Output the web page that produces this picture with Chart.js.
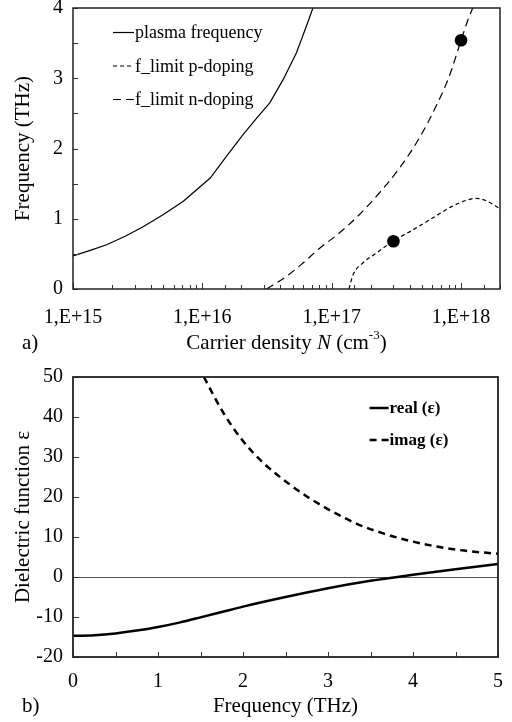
<!DOCTYPE html>
<html>
<head>
<meta charset="utf-8">
<script src="https://cdn.jsdelivr.net/npm/chart.js@4.4.1/dist/chart.umd.min.js"></script>
<style>
  body { margin: 0; background: #fff; }
  canvas { display: block; }
</style>
</head>
<body>
<canvas id="densityChart" width="512" height="361"></canvas>
<canvas id="epsChart" width="512" height="361"></canvas>
<script>
// ---- a) frequency vs carrier density (read off the figure) ----
const plasmaN = [1e15, 1.36e15, 1.82e15, 2.53e15, 3.51e15, 5.0e15, 7.13e15, 1.15e16, 1.54e16, 2.07e16, 2.62e16, 3.32e16, 4.21e16, 5.33e16, 6.37e16, 7.16e16];
const plasmaF = [0.47, 0.55, 0.63, 0.75, 0.89, 1.06, 1.25, 1.58, 1.89, 2.20, 2.43, 2.65, 2.98, 3.36, 3.74, 4.0];

const pDopN = [1.36e17, 1.46e17, 1.74e17, 2.21e17, 2.97e17, 4.23e17, 6.02e17, 8.6e17, 1.09e18, 1.3e18, 1.55e18, 1.97e18];
const pDopF = [0.0, 0.2, 0.37, 0.51, 0.68, 0.84, 1.01, 1.18, 1.26, 1.29, 1.26, 1.15];

const nDopN = [3.13e16, 4.47e16, 6.0e16, 8.07e16, 1.15e17, 1.64e17, 2.34e17, 3.34e17, 4.76e17, 6.4e17, 8.11e17, 1e18, 1.13e18, 1.23e18];
const nDopF = [0.0, 0.18, 0.37, 0.58, 0.80, 1.06, 1.37, 1.72, 2.15, 2.60, 3.03, 3.54, 3.83, 4.0];

const markerN = [1e18, 3e17];
const markerF = [3.54, 0.68];

// ---- b) dielectric function vs frequency ----
const realFreq = [0, 0.25, 0.5, 0.75, 1.0, 1.25, 1.5, 1.75, 2.0, 2.5, 3.0, 3.5, 4.0, 4.5, 5.0];
const realEps = [-14.7, -14.55, -14.1, -13.4, -12.5, -11.4, -10.1, -8.75, -7.4, -5.0, -2.8, -0.95, 0.55, 1.95, 3.25];

const imagFreq = [1.54, 1.77, 2.0, 2.24, 2.54, 2.79, 3.03, 3.34, 3.65, 3.97, 4.28, 4.6, 5.0];
const imagEps = [50, 41, 34, 28.5, 23.3, 19.6, 16.6, 13.3, 10.9, 9.0, 7.6, 6.6, 5.8];

const SERIF = "'Liberation Serif', 'Times New Roman', serif";
const pts = (xs, ys) => xs.map((x, i) => ({ x: x, y: ys[i] }));
const isPow10 = v => { const e = Math.log10(v); return Math.abs(e - Math.round(e)) < 1e-9; };

// inward tick marks + closed frame round the plot area
const framePlugin = {
  id: 'frame',
  afterDatasetsDraw(chart, args, opts) {
    const { ctx, chartArea: a, scales } = chart;
    ctx.save();
    ctx.strokeStyle = '#333';
    ctx.lineWidth = 1;
    scales.x.ticks.forEach(t => {
      const px = Math.round(scales.x.getPixelForValue(t.value)) + 0.5;
      ctx.beginPath();
      ctx.moveTo(px, a.bottom);
      ctx.lineTo(px, a.bottom - opts.xLen(t));
      ctx.stroke();
    });
    scales.y.ticks.forEach(t => {
      const py = Math.round(scales.y.getPixelForValue(t.value)) + 0.5;
      ctx.beginPath();
      ctx.moveTo(a.left, py);
      ctx.lineTo(a.left + opts.yLen, py);
      ctx.stroke();
    });
    ctx.strokeStyle = '#222';
    ctx.lineWidth = opts.border;
    ctx.strokeRect(a.left, a.top, a.right - a.left, a.bottom - a.top);
    ctx.restore();
  }
};

function drawParts(ctx, parts, cx, cy) {
  let total = 0;
  parts.forEach(p => { ctx.font = p.font; p.w = ctx.measureText(p.text).width; total += p.w; });
  let x = cx - total / 2;
  parts.forEach(p => { ctx.font = p.font; ctx.fillText(p.text, x, cy + (p.dy || 0)); x += p.w; });
}

// axis titles, panel letter and the in-plot legend
const textPlugin = {
  id: 'texts',
  afterDraw(chart, args, opts) {
    const { ctx, chartArea: a } = chart;
    ctx.save();
    ctx.fillStyle = '#000';
    ctx.textBaseline = 'middle';
    ctx.textAlign = 'left';
    drawParts(ctx, opts.xTitle, (a.left + a.right) / 2, opts.xTitleY);
    ctx.save();
    ctx.translate(opts.yTitleX, (a.top + a.bottom) / 2);
    ctx.rotate(-Math.PI / 2);
    drawParts(ctx, opts.yTitle, 0, 0);
    ctx.restore();
    ctx.font = '21px ' + SERIF;
    ctx.fillText(opts.panel, 22, opts.xTitleY);

    const lg = opts.legend;
    lg.items.forEach((idx, i) => {
      const ds = chart.data.datasets[idx];
      const y = a.top + lg.y + i * lg.gap;
      ctx.beginPath();
      ctx.setLineDash(ds.borderDash || []);
      ctx.lineWidth = ds.borderWidth;
      ctx.strokeStyle = ds.borderColor;
      ctx.moveTo(a.left + lg.x, y);
      ctx.lineTo(a.left + lg.x + lg.len, y);
      ctx.stroke();
      ctx.setLineDash([]);
      ctx.font = lg.font;
      ctx.fillText(ds.label, a.left + lg.x + lg.len + 1, y + 1);
    });
    ctx.restore();
  }
};

const tickFont = { family: SERIF, size: 20 };
const f21 = '21px ' + SERIF;

// ================= a) =================
new Chart(document.getElementById('densityChart'), {
  type: 'line',
  data: {
    datasets: [
      { label: 'plasma frequency', data: pts(plasmaN, plasmaF), borderColor: '#000', borderWidth: 1.2, pointRadius: 0, tension: 0 },
      { label: 'f_limit p-doping', data: pts(pDopN, pDopF), borderColor: '#000', borderWidth: 1.2, borderDash: [4, 3], pointRadius: 0, cubicInterpolationMode: 'monotone' },
      { label: 'f_limit n-doping', data: pts(nDopN, nDopF), borderColor: '#000', borderWidth: 1.2, borderDash: [8, 5], pointRadius: 0, cubicInterpolationMode: 'monotone' },
      { label: 'markers', data: pts(markerN, markerF), showLine: false, pointRadius: 6.3, pointBackgroundColor: '#000', pointBorderWidth: 0 }
    ]
  },
  options: {
    responsive: false,
    animation: false,
    layout: { padding: { left: 33, right: 12, top: 8, bottom: 0 } },
    plugins: {
      legend: { display: false },
      tooltip: { enabled: false },
      frame: { xLen: t => isPow10(t.value) ? 6 : 4, yLen: 5, border: 1.5 },
      texts: {
        xTitle: [
          { text: 'Carrier density ', font: f21 },
          { text: 'N', font: 'italic ' + f21 },
          { text: ' (cm', font: f21 },
          { text: '-3', font: '13px ' + SERIF, dy: -7 },
          { text: ')', font: f21 }
        ],
        xTitleY: 343,
        yTitle: [{ text: 'Frequency (THz)', font: f21 }],
        yTitleX: 23,
        panel: 'a)',
        legend: { items: [0, 1, 2], x: 40, y: 24.5, gap: 33.5, len: 21, font: '18px ' + SERIF }
      }
    },
    scales: {
      x: {
        type: 'logarithmic', min: 1e15, max: 2e18,
        grid: { display: false, drawTicks: false },
        border: { display: false },
        ticks: {
          autoSkip: false, maxRotation: 0, padding: 17, color: '#000', font: tickFont,
          callback: v => isPow10(v) ? '1,E+' + Math.round(Math.log10(v)) : ''
        },
        afterFit: s => { s.height = 72; s.paddingLeft = 0; s.paddingRight = 0; }
      },
      y: {
        min: 0, max: 4,
        grid: { display: false, drawTicks: false },
        border: { display: false },
        ticks: {
          stepSize: 0.5, padding: 10, color: '#000', font: tickFont,
          callback: v => Number.isInteger(v) ? v : ''
        },
        afterFit: s => { s.width = 40; s.paddingTop = 0; s.paddingBottom = 0; }
      }
    }
  },
  plugins: [framePlugin, textPlugin]
});

// ================= b) =================
new Chart(document.getElementById('epsChart'), {
  type: 'line',
  data: {
    datasets: [
      { label: 'real (ε)', data: pts(realFreq, realEps), borderColor: '#000', borderWidth: 2.5, pointRadius: 0, cubicInterpolationMode: 'monotone' },
      { label: 'imag (ε)', data: pts(imagFreq, imagEps), borderColor: '#000', borderWidth: 2.5, borderDash: [7, 5], pointRadius: 0, cubicInterpolationMode: 'monotone' }
    ]
  },
  options: {
    responsive: false,
    animation: false,
    layout: { padding: { left: 33, right: 14, top: 16, bottom: 0 } },
    plugins: {
      legend: { display: false },
      tooltip: { enabled: false },
      frame: { xLen: () => 5, yLen: 6, border: 1.8 },
      texts: {
        xTitle: [{ text: 'Frequency (THz)', font: f21 }],
        xTitleY: 345.7,
        yTitle: [{ text: 'Dielectric function ε', font: f21 }],
        yTitleX: 23,
        panel: 'b)',
        legend: { items: [0, 1], x: 296.6, y: 31, gap: 32, len: 19, font: 'bold 17px ' + SERIF }
      }
    },
    scales: {
      x: {
        type: 'linear', min: 0, max: 5,
        grid: { display: false, drawTicks: false },
        border: { display: false },
        ticks: {
          stepSize: 0.5, autoSkip: false, maxRotation: 0, padding: 13, color: '#000', font: tickFont,
          callback: v => Number.isInteger(v) ? v : ''
        },
        afterFit: s => { s.height = 65; s.paddingLeft = 0; s.paddingRight = 0; }
      },
      y: {
        min: -20, max: 50,
        grid: {
          drawTicks: false,
          color: c => c.tick && c.tick.value === 0 ? '#555' : 'rgba(0,0,0,0)',
          lineWidth: 1
        },
        border: { display: false },
        ticks: { stepSize: 10, padding: 10, color: '#000', font: tickFont },
        afterFit: s => { s.width = 40; s.paddingTop = 0; s.paddingBottom = 0; }
      }
    }
  },
  plugins: [framePlugin, textPlugin]
});
</script>
</body>
</html>
